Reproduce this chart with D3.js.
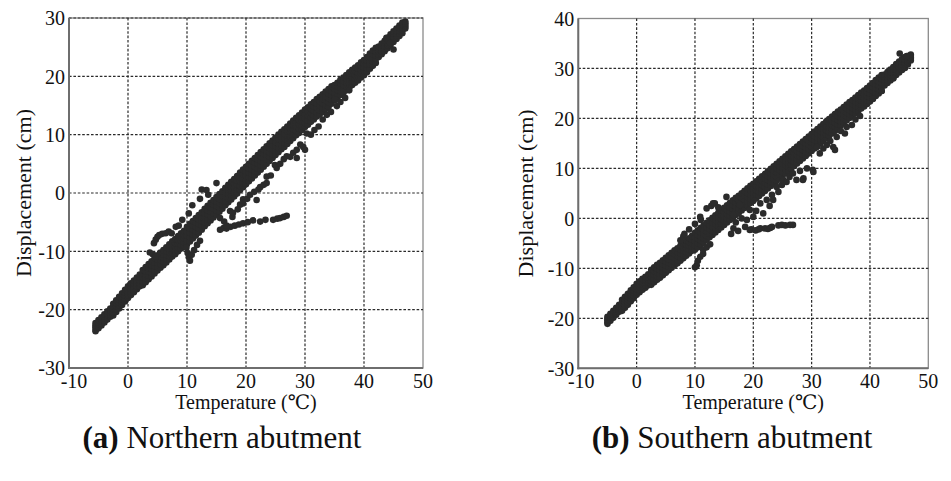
<!DOCTYPE html>
<html>
<head>
<meta charset="utf-8">
<script src="https://cdn.jsdelivr.net/npm/d3@7"></script>
<style>
  html, body { margin: 0; padding: 0; background: #fff; }
  svg { display: block; }
  text { font-family: "Liberation Serif", "Times New Roman", "DejaVu Serif", serif; fill: #111; }
</style>
</head>
<body>
<svg id="chart" width="951" height="481"></svg>
<script>
// ---------------- DATA ----------------
const xTicks = [-10, 0, 10, 20, 30, 40, 50];
const northYTicks = [-30, -20, -10, 0, 10, 20, 30];
const southYTicks = [-30, -20, -10, 0, 10, 20, 30, 40];
const xTitle = "Temperature (℃)";
const yTitle = "Displacement (cm)";
const captions = [["(a)", " Northern abutment"], ["(b)", " Southern abutment"]];

// Northern abutment: dense main band, rows [temperature, displacement values across the band]
const northBand = [
[-5.5,-23.7,-23.4,-23.0,-22.7,-22.3],[-5,-23.2,-22.9,-22.5,-22.2,-21.8],[-4.5,-22.7,-22.4,-22.0,-21.7,-21.3],
[-4,-22.2,-21.9,-21.5,-21.2,-20.8],[-3.5,-21.7,-21.4,-21.0,-20.7,-20.3],[-3,-21.2,-20.9,-20.5,-20.2,-19.8],
[-2.5,-21.0,-20.5,-20.0,-19.5,-19.0],[-2,-20.4,-19.9,-19.4,-18.9,-18.4],[-1.5,-19.8,-19.3,-18.8,-18.3,-17.8],
[-1,-19.2,-18.7,-18.2,-17.7,-17.2],[-0.5,-18.6,-18.1,-17.6,-17.1,-16.6],[0,-18.0,-17.5,-17.0,-16.5,-16.0],
[0.5,-17.5,-17.0,-16.5,-16.0,-15.5],[1,-17.0,-16.5,-16.0,-15.5,-15.0],[1.5,-16.5,-16.0,-15.5,-15.0,-14.5],
[2,-16.0,-15.5,-15.0,-14.5,-14.0],[2.5,-15.8,-15.2,-14.5,-13.9,-13.2],[3,-15.3,-14.7,-14.0,-13.4,-12.7],
[3.5,-14.8,-14.2,-13.5,-12.9,-12.2],[4,-14.3,-13.7,-13.0,-12.4,-11.7],[4.5,-13.8,-13.2,-12.5,-11.9,-11.2],
[5,-13.3,-12.7,-12.0,-11.4,-10.7],[5.5,-12.8,-12.2,-11.5,-10.9,-10.2],[6,-12.4,-11.8,-11.1,-10.5,-9.8],
[6.5,-11.9,-11.3,-10.6,-10.0,-9.3],[7,-11.4,-10.8,-10.1,-9.5,-8.8],[7.5,-10.9,-10.3,-9.6,-9.0,-8.3],
[8,-10.5,-9.9,-9.2,-8.6,-7.9],[8.5,-10.0,-9.4,-8.7,-8.1,-7.4],[9,-9.5,-8.9,-8.2,-7.6,-6.9],
[9.5,-9.1,-8.5,-7.8,-7.2,-6.5],[10,-8.8,-8.1,-7.3,-6.6,-5.8],[10.5,-8.3,-7.6,-6.8,-6.1,-5.3],
[11,-7.8,-7.1,-6.3,-5.6,-4.8],[11.5,-7.3,-6.6,-5.8,-5.1,-4.3],[12,-6.8,-6.1,-5.3,-4.6,-3.8],
[12.5,-6.3,-5.6,-4.8,-4.1,-3.3],[13,-5.7,-5.0,-4.2,-3.5,-2.7],[13.5,-5.2,-4.5,-3.7,-3.0,-2.2],
[14,-4.7,-4.0,-3.2,-2.5,-1.7],[14.5,-4.2,-3.5,-2.7,-2.0,-1.2],[15,-3.7,-3.0,-2.2,-1.5,-0.7],
[15.5,-3.2,-2.5,-1.7,-1.0,-0.2],[16,-2.7,-2.0,-1.2,-0.5,0.3],[16.5,-2.1,-1.4,-0.6,0.1,0.9],
[17,-1.6,-0.9,-0.1,0.6,1.4],[17.5,-1.1,-0.4,0.4,1.1,1.9],[18,-0.6,0.1,0.9,1.6,2.4],
[18.5,-0.1,0.6,1.4,2.1,2.9],[19,0.5,1.2,2.0,2.7,3.5],[19.5,1.0,1.7,2.5,3.2,4.0],
[20,1.5,2.2,3.0,3.7,4.5],[20.5,2.0,2.7,3.5,4.2,5.0],[21,2.5,3.2,4.0,4.7,5.5],
[21.5,3.0,3.7,4.5,5.2,6.0],[22,3.5,4.2,5.0,5.7,6.5],[22.5,4.0,4.7,5.5,6.2,7.0],
[23,4.5,5.2,6.0,6.7,7.5],[23.5,5.0,5.7,6.5,7.2,8.0],[24,5.5,6.2,7.0,7.7,8.5],
[24.5,6.0,6.7,7.5,8.2,9.0],[25,6.5,7.2,8.0,8.7,9.5],[25.5,7.0,7.7,8.5,9.2,10.0],
[26,7.5,8.2,9.0,9.7,10.5],[26.5,7.9,8.6,9.4,10.1,10.9],[27,8.4,9.1,9.9,10.6,11.4],
[27.5,8.9,9.6,10.4,11.1,11.9],[28,9.4,10.1,10.9,11.6,12.4],[28.5,9.9,10.6,11.4,12.1,12.9],
[29,10.3,11.0,11.8,12.5,13.3],[29.5,10.8,11.5,12.3,13.0,13.8],[30,11.3,12.0,12.8,13.5,14.3],
[30.5,11.7,12.4,13.2,13.9,14.7],[31,12.2,12.9,13.7,14.4,15.2],[31.5,12.6,13.3,14.1,14.8,15.6],
[32,13.1,13.8,14.6,15.3,16.1],[32.5,13.5,14.2,15.0,15.7,16.5],[33,13.9,14.6,15.4,16.1,16.9],
[33.5,14.4,15.1,15.9,16.6,17.4],[34,14.8,15.5,16.3,17.0,17.8],[34.5,15.3,16.0,16.8,17.5,18.3],
[35,15.9,16.6,17.2,17.9,18.5],[35.5,16.3,17.0,17.6,18.3,18.9],[36,16.8,17.5,18.1,18.8,19.4],
[36.5,17.2,17.9,18.5,19.2,19.8],[37,17.6,18.3,18.9,19.6,20.2],[37.5,18.1,18.8,19.4,20.1,20.7],
[38,18.5,19.2,19.8,20.5,21.1],[38.5,18.9,19.6,20.2,20.9,21.5],[39,19.3,20.0,20.6,21.3,21.9],
[39.5,19.8,20.5,21.1,21.8,22.4],[40,20.2,20.9,21.5,22.2,22.8],[40.5,20.7,21.4,22.0,22.7,23.3],
[41,21.3,22.0,22.6,23.3,23.9],[41.5,21.8,22.5,23.1,23.8,24.4],[42,22.3,23.0,23.6,24.3,24.9],
[42.5,23.3,23.8,24.2,24.7,25.1],[43,23.8,24.3,24.7,25.2,25.6],[43.5,24.3,24.8,25.2,25.7,26.1],
[44,24.8,25.3,25.7,26.2,26.6],[44.5,25.4,25.9,26.3,26.8,27.2],[45,25.9,26.4,26.8,27.3,27.7],
[45.5,26.4,26.9,27.3,27.8,28.2],[46,26.9,27.4,27.8,28.3,28.7],[46.5,27.4,27.9,28.3,28.8,29.2],
[47,28.2,28.5,28.8,29.1,29.4]
];
// Northern abutment: scattered points off the main band [temperature, displacement]
const northScatter = [
[15.6,-6.3],[16.2,-6.0],[16.7,-6.1],[17.4,-5.8],[18.1,-5.6],[18.8,-5.4],[19.5,-5.2],[20.3,-5.0],
[21.2,-4.7],[22.4,-4.9],[23.3,-4.6],[24.6,-4.6],[25.3,-4.4],[25.8,-4.3],[26.4,-4.1],[26.9,-3.9],
[3.7,-10.2],[4.2,-10.5],[4.7,-10.9],[4.4,-8.6],[4.7,-8.0],[5.0,-7.5],[5.3,-7.2],[5.8,-7.0],
[6.4,-6.9],[6.9,-6.6],[7.4,-6.9],[8.1,-5.8],[8.6,-5.6],[9.2,-4.6],[10.3,-3.5],[10.9,-2.1],
[12.2,-1.0],[13.3,0.5],[15.0,1.7],[13.6,-0.3],[12.5,0.6],
[9.9,-9.4],[10.1,-10.3],[10.3,-11.0],[10.5,-11.6],[10.8,-10.6],[11.2,-9.8],[11.7,-8.9],[12.2,-8.2],
[15.6,-4.3],[16.3,-4.9],[16.7,-5.6],[17.3,-3.1],[17.7,-4.1],[17.8,-3.4],[18.6,-2.8],[19.0,-2.0],
[19.5,-1.1],[19.5,-1.8],[20.2,-1.0],[20.7,-0.3],[21.4,0.2],[21.8,-1.2],[22.1,0.6],[22.4,1.0],
[23.0,1.4],[23.5,1.7],[23.5,2.8],[24.2,3.0],[24.9,4.8],[25.2,4.3],[25.8,5.0],[26.4,5.8],
[26.9,6.3],[27.5,6.2],[28.0,6.9],[28.6,6.0],[28.6,7.4],[29.2,8.3],[29.7,7.9],[30.0,7.4],
[30.3,10.2],[31.0,10.0],[31.6,10.8],[32.3,11.4],[33.0,12.6],[33.7,13.4],[34.4,13.9],[35.1,16.0],
[35.4,14.9],[36.0,15.6],[36.8,16.3],[37.5,17.6],[43.8,26.6],[44.4,25.7],[45.0,24.6]
];

// Southern abutment: dense main band, rows [temperature, displacement values across the band]
const southBand = [
[-5,-21.1,-20.8,-20.4,-20.1,-19.7],[-4.5,-20.5,-20.2,-19.8,-19.5,-19.1],[-4,-19.9,-19.6,-19.2,-18.9,-18.5],
[-3.5,-19.3,-19.0,-18.6,-18.3,-17.9],[-3,-18.7,-18.4,-18.0,-17.7,-17.3],[-2.5,-18.5,-18.0,-17.4,-16.9,-16.3],
[-2,-17.9,-17.4,-16.8,-16.3,-15.7],[-1.5,-17.3,-16.8,-16.2,-15.7,-15.1],[-1,-16.6,-16.1,-15.5,-15.0,-14.4],
[-0.5,-16.0,-15.5,-14.9,-14.4,-13.8],[0,-15.3,-14.8,-14.2,-13.7,-13.1],[0.5,-14.8,-14.3,-13.7,-13.2,-12.6],
[1,-14.3,-13.8,-13.2,-12.7,-12.1],[1.5,-13.9,-13.4,-12.8,-12.3,-11.7],[2,-13.4,-12.9,-12.3,-11.8,-11.2],
[2.5,-13.3,-12.6,-11.8,-11.1,-10.3],[3,-12.8,-12.1,-11.3,-10.6,-9.8],[3.5,-12.3,-11.6,-10.8,-10.1,-9.3],
[4,-11.9,-11.2,-10.4,-9.7,-8.9],[4.5,-11.4,-10.7,-9.9,-9.2,-8.4],[5,-10.9,-10.2,-9.4,-8.7,-7.9],
[5.5,-10.4,-9.7,-8.9,-8.2,-7.4],[6,-9.9,-9.2,-8.4,-7.7,-6.9],[6.5,-9.4,-8.7,-7.9,-7.2,-6.4],
[7,-9.0,-8.3,-7.5,-6.8,-6.0],[7.5,-8.5,-7.8,-7.0,-6.3,-5.5],[8,-8.0,-7.3,-6.5,-5.8,-5.0],
[8.5,-7.5,-6.8,-6.0,-5.3,-4.5],[9,-7.0,-6.3,-5.5,-4.8,-4.0],[9.5,-6.5,-5.8,-5.0,-4.3,-3.5],
[10,-6.3,-5.5,-4.6,-3.8,-2.9],[10.5,-5.8,-5.0,-4.1,-3.3,-2.4],[11,-5.3,-4.5,-3.6,-2.8,-1.9],
[11.5,-4.8,-4.0,-3.1,-2.3,-1.4],[12,-4.3,-3.5,-2.6,-1.8,-0.9],[12.5,-3.8,-3.0,-2.1,-1.3,-0.4],
[13,-3.3,-2.5,-1.6,-0.8,0.1],[13.5,-2.8,-2.0,-1.1,-0.3,0.6],[14,-2.3,-1.5,-0.6,0.2,1.1],
[14.5,-1.8,-1.0,-0.1,0.7,1.6],[15,-1.3,-0.5,0.4,1.2,2.1],[15.5,-0.8,0.0,0.9,1.7,2.6],
[16,-0.3,0.5,1.4,2.2,3.1],[16.5,0.2,1.0,1.9,2.7,3.6],[17,0.7,1.5,2.4,3.2,4.1],
[17.5,1.1,1.9,2.8,3.6,4.5],[18,1.6,2.4,3.3,4.1,5.0],[18.5,2.1,2.9,3.8,4.6,5.5],
[19,2.6,3.4,4.3,5.1,6.0],[19.5,3.1,3.9,4.8,5.6,6.5],[20,3.5,4.3,5.2,6.0,6.9],
[20.5,4.0,4.8,5.7,6.5,7.4],[21,4.5,5.3,6.2,7.0,7.9],[21.5,5.0,5.8,6.7,7.5,8.4],
[22,5.5,6.3,7.2,8.0,8.9],[22.5,6.0,6.8,7.7,8.5,9.4],[23,6.5,7.3,8.2,9.0,9.9],
[23.5,7.0,7.8,8.7,9.5,10.4],[24,7.5,8.3,9.2,10.0,10.9],[24.5,8.0,8.8,9.7,10.5,11.4],
[25,8.5,9.3,10.2,11.0,11.9],[25.5,9.0,9.8,10.7,11.5,12.4],[26,9.5,10.3,11.2,12.0,12.9],
[26.5,10.0,10.8,11.7,12.5,13.4],[27,10.5,11.3,12.2,13.0,13.9],[27.5,11.0,11.8,12.7,13.5,14.4],
[28,11.5,12.3,13.2,14.0,14.9],[28.5,12.0,12.8,13.7,14.5,15.4],[29,12.5,13.3,14.2,15.0,15.9],
[29.5,13.0,13.8,14.7,15.5,16.4],[30,13.5,14.3,15.2,16.0,16.9],[30.5,14.0,14.8,15.7,16.5,17.4],
[31,14.5,15.3,16.2,17.0,17.9],[31.5,15.0,15.8,16.7,17.5,18.4],[32,15.5,16.3,17.2,18.0,18.9],
[32.5,16.0,16.8,17.7,18.5,19.4],[33,16.5,17.3,18.2,19.0,19.9],[33.5,17.0,17.8,18.7,19.5,20.4],
[34,17.5,18.3,19.2,20.0,20.9],[34.5,18.0,18.8,19.7,20.5,21.4],[35,18.6,19.4,20.2,21.0,21.8],
[35.5,19.1,19.9,20.7,21.5,22.3],[36,19.6,20.4,21.2,22.0,22.8],[36.5,20.1,20.9,21.7,22.5,23.3],
[37,20.5,21.3,22.1,22.9,23.7],[37.5,21.0,21.8,22.6,23.4,24.2],[38,21.5,22.3,23.1,23.9,24.7],
[38.5,22.0,22.8,23.6,24.4,25.2],[39,22.4,23.2,24.0,24.8,25.6],[39.5,22.9,23.7,24.5,25.3,26.1],
[40,23.4,24.2,25.0,25.8,26.6],[40.5,23.9,24.7,25.5,26.3,27.1],[41,24.5,25.3,26.1,26.9,27.7],
[41.5,25.0,25.8,26.6,27.4,28.2],[42,25.5,26.3,27.1,27.9,28.7],[42.5,26.6,27.2,27.7,28.3,28.8],
[43,27.1,27.7,28.2,28.8,29.3],[43.5,27.6,28.2,28.7,29.3,29.8],[44,28.1,28.7,29.2,29.8,30.3],
[44.5,28.7,29.3,29.8,30.4,30.9],[45,29.2,29.8,30.3,30.9,31.4],[45.5,29.7,30.3,30.8,31.4,31.9],
[46,30.1,30.7,31.2,31.8,32.3],[46.5,30.8,31.3,31.7,32.1,32.5],[47,31.6,31.9,32.2,32.5,32.8]
];
// Southern abutment: scattered points off the main band [temperature, displacement]
const southScatter = [
[16.2,-3.1],[16.6,-2.0],[17.4,-2.5],[18.6,-1.7],[19.4,-2.3],[19.7,-2.2],[20.4,-2.4],[20.9,-2.2],
[21.2,-2.0],[22.0,-2.0],[22.5,-2.1],[22.9,-1.9],[23.2,-1.7],[24.3,-1.4],[24.9,-1.3],[25.5,-1.4],
[26.3,-1.3],[26.8,-1.3],
[7.5,-4.4],[8.0,-3.6],[8.2,-3.1],[9.0,-2.2],[10.0,-1.1],[10.9,0.3],[11.0,-0.3],[12.0,2.0],
[12.8,2.5],[13.1,3.0],[13.4,3.0],[14.0,2.2],[15.4,4.3],
[10.0,-9.8],[10.3,-9.4],[10.5,-8.5],[10.9,-7.7],[11.4,-7.1],[11.4,-6.3],[12.0,-5.8],[12.6,-5.2],
[16.6,0.7],[17.0,-0.8],[17.7,2.7],[18.0,0.0],[18.9,-0.3],[19.4,1.7],[20.0,0.3],[20.5,1.5],
[21.2,3.0],[21.7,1.0],[22.3,3.7],[22.8,2.5],[23.2,4.7],[23.4,3.7],[24.0,6.3],[24.3,5.3],
[24.9,6.7],[25.1,7.7],[25.7,7.3],[26.2,8.3],[26.8,9.0],[27.4,7.7],[28.0,9.5],[28.5,7.7],
[28.6,8.0],[29.2,10.0],[30.2,9.7],[30.3,9.3],[30.9,14.3],[31.4,13.0],[32.0,14.0],[32.6,14.7],
[33.2,15.5],[33.7,14.3],[34.0,13.7],[34.3,16.3],[35.0,17.5],[35.7,17.0],[36.0,18.3],[36.9,18.7],
[37.5,19.8],[38.3,20.5],[40.5,24.0],[42.0,25.5],[44.0,28.0],[45.1,33.0],[46.3,32.5]
];

// ---------------- DRAW ----------------
const FONT = "'Liberation Serif', 'Times New Roman', 'DejaVu Serif', serif";
const svg = d3.select("#chart");

const panels = [
  { left: 69, right: 423, top: 18, bottom: 368, yDomain: [-30, 30], yTicks: northYTicks,
    band: northBand, scatter: northScatter,
    yTitleX: 23, caption: captions[0], capX: 222, topGrid: true, firstDx: 5 },
  { left: 578.3, right: 928.3, top: 18.5, bottom: 368.3, yDomain: [-30, 40], yTicks: southYTicks,
    band: southBand, scatter: southScatter,
    yTitleX: 525, caption: captions[1], capX: 732, topGrid: false, firstDx: 3 }
];

panels.forEach(p => {
  const x = d3.scaleLinear().domain([-10, 50]).range([p.left, p.right]);
  const y = d3.scaleLinear().domain(p.yDomain).range([p.bottom, p.top]);
  const g = svg.append("g");

  // frame
  g.append("rect")
    .attr("x", p.left).attr("y", p.top)
    .attr("width", p.right - p.left).attr("height", p.bottom - p.top)
    .attr("fill", "none").attr("stroke", "#8a8a8a").attr("stroke-width", 1.3);

  // grid
  const grid = g.append("g").attr("stroke", "#2a2a2a").attr("stroke-width", 1.2)
    .attr("stroke-dasharray", "2.6,1.8").attr("fill", "none");
  xTicks.filter(t => t > -10 && t < 50).forEach(t => {
    grid.append("line").attr("x1", x(t)).attr("x2", x(t)).attr("y1", p.top).attr("y2", p.bottom);
  });
  p.yTicks.filter(t => t > p.yDomain[0] && (t < p.yDomain[1] || p.topGrid)).forEach(t => {
    grid.append("line").attr("x1", p.left).attr("x2", p.right).attr("y1", y(t)).attr("y2", y(t));
  });

  // left & bottom axis lines (darker)
  g.append("line").attr("x1", p.left).attr("x2", p.left).attr("y1", p.top).attr("y2", p.bottom + 1)
    .attr("stroke", "#6e6e6e").attr("stroke-width", 2);
  g.append("line").attr("x1", p.left - 1).attr("x2", p.right).attr("y1", p.bottom).attr("y2", p.bottom)
    .attr("stroke", "#6e6e6e").attr("stroke-width", 2);

  // points
  const pts = [];
  p.band.forEach(r => r.slice(1).forEach(v => pts.push([r[0], v])));
  p.scatter.forEach(d => pts.push(d));
  g.append("g").attr("fill", "#2b2b2b")
    .selectAll("circle").data(pts).join("circle")
    .attr("cx", d => x(d[0])).attr("cy", d => y(d[1])).attr("r", 3.3);

  // x tick labels
  g.append("g").selectAll("text").data(xTicks).join("text")
    .attr("font-family", FONT)
    .attr("x", (d, i) => x(d) + (i === 0 ? p.firstDx : 0))
    .attr("y", p.bottom + 20)
    .attr("text-anchor", "middle").attr("font-size", 20)
    .text(d => d);

  // y tick labels
  g.append("g").selectAll("text").data(p.yTicks).join("text")
    .attr("font-family", FONT)
    .attr("x", p.left - 4).attr("y", d => y(d))
    .attr("dy", "0.36em")
    .attr("text-anchor", "end").attr("font-size", 20)
    .text(d => d);

  // axis titles
  g.append("text")
    .attr("font-family", FONT)
    .attr("x", (p.left + p.right) / 2).attr("y", p.bottom + 41)
    .attr("text-anchor", "middle").attr("font-size", 20)
    .text(xTitle);
  g.append("text")
    .attr("font-family", FONT)
    .attr("transform", `translate(${p.yTitleX},${(p.top + p.bottom) / 2}) rotate(-90)`)
    .attr("text-anchor", "middle").attr("dy", "0.35em").attr("font-size", 22)
    .text(yTitle);

  // caption
  const cap = svg.append("text").attr("font-family", FONT).attr("x", p.capX).attr("y", 448)
    .attr("text-anchor", "middle").attr("font-size", 31);
  cap.append("tspan").attr("font-weight", "bold").text(p.caption[0]);
  cap.append("tspan").text(p.caption[1]);
});
</script>
</body>
</html>
